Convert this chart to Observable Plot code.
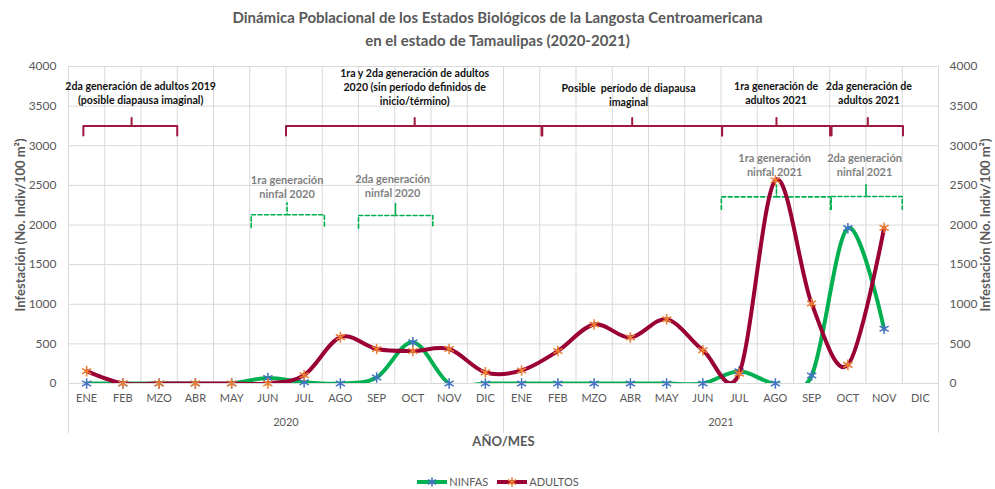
<!DOCTYPE html>
<html>
<head>
<meta charset="utf-8">
<script src="https://cdn.jsdelivr.net/npm/d3@7"></script>
<script src="https://cdn.jsdelivr.net/npm/@observablehq/plot@0.6"></script>
<style>
  html, body { margin: 0; padding: 0; background: #fff; }
  body { width: 995px; height: 489px; overflow: hidden; font-family: Lato, 'Liberation Sans', sans-serif; }
  #title { box-sizing: border-box; height: 58px; padding-top: 6px; text-align: center; font-weight: bold; font-size: 15px; line-height: 23px; color: #595959; }
  #chart svg { display: block; }
  #legend { box-sizing: border-box; height: 29px; padding-top: 15px; display: flex; justify-content: center; align-items: center; font-size: 11px; line-height: 14px; color: #595959; }
  #legend .item { display: flex; align-items: center; margin: 0 4px; }
  #legend svg { display: block; margin-right: 1px; }
</style>
</head>
<body>
<div id="title">Dinámica Poblacional de los Estados Biológicos de la Langosta Centroamericana<br>en el estado de Tamaulipas (2020-2021)</div>
<div id="chart"></div>
<div id="legend"></div>
<script>
// ---------- data ----------
const months = ["ENE","FEB","MZO","ABR","MAY","JUN","JUL","AGO","SEP","OCT","NOV","DIC"];
const years = ["2020","2021"];
const ninfas  = [0,0,0,0,0,70,15,0,75,520,0,0,   0,0,0,0,0,0,155,0,100,1960,690,null];
const adultos = [155,0,0,0,0,0,105,585,435,410,435,140,  165,410,745,580,810,420,125,2565,1010,235,1965,null];
const yTicks = [0,500,1000,1500,2000,2500,3000,3500,4000];
const yLabel = "Infestación (No. Indiv/100 m²)";
const xLabel = "AÑO/MES";
const seriesNames = ["NINFAS","ADULTOS"];

// annotations (x in month-slot units from start, y in data units)
const adultNotes = ["2da generación de adultos 2019\n(posible diapausa imaginal)",
  "1ra y 2da generación de adultos\n2020 (sin período definidos de\ninicio/término)",
  "Posible  período de diapausa\nimaginal",
  "1ra generación de\nadultos 2021",
  "2da generación de\nadultos 2021"];
const adultNoteX = [1.99, 9.55, 15.45, 19.52, 22.08];
const adultNoteY = [3672, 3747, 3647, 3672, 3672];
const nymphNotes = ["1ra generación\nninfal 2020", "2da generación\nninfal 2020",
  "1ra generación\nninfal 2021", "2da generación\nninfal 2021"];
const nymphNoteX = [6.03, 8.94, 19.48, 21.96];
const nymphNoteY = [2480, 2498, 2763, 2763];

const adultBraceStart = [0.41, 6.0, 13.07, 18.03, 21.05];
const adultBraceEnd   = [3.0, 13.05, 18.03, 21.01, 23.02];
const adultBraceTip   = [1.74, 9.55, 15.55, 19.53, 22.05];
const adultBraceY = [3250, 3250, 3250, 3250, 3250];

const nymphBraceStart = [5.04, 8.0, 18.01, 21.04];
const nymphBraceEnd   = [7.06, 10.05, 21.02, 23.0];
const nymphBraceTip   = [6.03, 9.02, 19.53, 22.0];
const nymphBraceY     = [2130, 2120, 2355, 2360];

// ---------- derived tables ----------
const rows = d3.range(24).map(k => ({i: k + 0.5, ninfas: ninfas[k], adultos: adultos[k]}));
const monthCenters = d3.range(24).map(k => k + 0.5);
const innerGrid = d3.range(1, 24);
const yearBounds = [0, 12, 24];

function braces(starts, ends, tips, ys, endDrop, tipRise) {
  const pts = [];
  starts.forEach((s, k) => {
    const e = ends[k], t = tips[k], yh = ys[k];
    [[s, yh - endDrop], [s, yh], [t, yh], [t, yh + tipRise], [t, yh], [e, yh], [e, yh - endDrop]]
      .forEach(([x, y]) => pts.push({x, y, id: k}));
  });
  return pts;
}
const adultBraces = braces(adultBraceStart, adultBraceEnd, adultBraceTip, adultBraceY, 120, 100);
const nymphBraces = braces(nymphBraceStart, nymphBraceEnd, nymphBraceTip, nymphBraceY, 160, 150);

const GREEN = "#00B050", RED = "#9A0036", BLUE = "#4472C4", ORANGE = "#ED7D31", GRID = "#d9d9d9";
const FONT = "Lato, 'Liberation Sans', sans-serif";

const chart = Plot.plot({
  width: 995,
  height: 402,
  marginLeft: 68,
  marginRight: 57,
  marginTop: 8,
  marginBottom: 77,
  x: {domain: [0, 24], axis: null},
  y: {domain: [0, 4000], axis: null},
  style: {fontFamily: FONT, fontSize: "12px", color: "#595959", background: "#fff"},
  marks: [
    Plot.ruleY(yTicks, {stroke: GRID, strokeWidth: 1}),
    Plot.ruleX(innerGrid, {stroke: GRID, strokeWidth: 1}),
    Plot.ruleX(yearBounds, {stroke: GRID, strokeWidth: 1, insetBottom: -50}),
    Plot.axisY({anchor: "left", ticks: yTicks, tickFormat: d => String(d), tickSize: 0, tickPadding: 12, label: null, fontSize: 12}),
    Plot.axisY({anchor: "right", ticks: yTicks, tickFormat: d => String(d), tickSize: 0, tickPadding: 11, label: null, fontSize: 12}),
    Plot.axisX({ticks: monthCenters, tickFormat: d => months[Math.floor(d) % 12], tickSize: 0, tickPadding: 11, label: null, fontSize: 11}),
    Plot.text(years, {x: (d, k) => k * 12 + 6, frameAnchor: "bottom", dy: 42, fontSize: 11, fill: "#595959"}),
    Plot.text([xLabel], {x: 12, frameAnchor: "bottom", dy: 62, fontSize: 13, fontWeight: "bold", fill: "#595959"}),
    Plot.text([yLabel], {frameAnchor: "left", textAnchor: "middle", dx: -48, rotate: -90, fontSize: 13, fontWeight: "bold", fill: "#595959"}),
    Plot.text([yLabel], {frameAnchor: "right", textAnchor: "middle", dx: 47, rotate: -90, fontSize: 13, fontWeight: "bold", fill: "#595959"}),
    // braces
    Plot.line(adultBraces, {x: "x", y: "y", z: "id", stroke: "#A0173F", strokeWidth: 2, strokeLinejoin: "round"}),
    Plot.line(nymphBraces, {x: "x", y: "y", z: "id", stroke: GREEN, strokeWidth: 1.6, strokeDasharray: "4,2.5"}),
    // annotation texts
    Plot.text(adultNotes, {x: (d, k) => adultNoteX[k], y: (d, k) => adultNoteY[k], fontSize: 10.6, fontWeight: "bold", fill: "#111", lineHeight: 1.3}),
    Plot.text(nymphNotes, {x: (d, k) => nymphNoteX[k], y: (d, k) => nymphNoteY[k], fontSize: 11, fontWeight: "bold", fill: "#7f7f7f", lineHeight: 1.25}),
    // series
    Plot.line(rows, {x: "i", y: "ninfas", stroke: GREEN, strokeWidth: 4, curve: "cardinal", clip: true}),
    Plot.dot(rows, {x: "i", y: "ninfas", symbol: "asterisk", r: 5, stroke: BLUE, strokeWidth: 1.5}),
    Plot.line(rows, {x: "i", y: "adultos", stroke: RED, strokeWidth: 4, curve: "cardinal", clip: true}),
    Plot.dot(rows, {x: "i", y: "adultos", symbol: "asterisk", r: 5, stroke: ORANGE, strokeWidth: 1.5})
  ]
});
document.getElementById("chart").appendChild(chart);

// legend
const legendColors = [[GREEN, BLUE], [RED, ORANGE]];
const legend = document.getElementById("legend");
seriesNames.forEach((name, k) => {
  const [lc, mc] = legendColors[k];
  const item = document.createElement("div");
  item.className = "item";
  const sym = d3.symbol(d3.symbolAsterisk, 60)();
  item.innerHTML = `<svg width="32" height="12"><line x1="1" y1="6" x2="31" y2="6" stroke="${lc}" stroke-width="4"/><path transform="translate(16,6)" d="${sym}" stroke="${mc}" stroke-width="1.5" fill="none"/></svg><span>${name}</span>`;
  legend.appendChild(item);
});
</script>
</body>
</html>
